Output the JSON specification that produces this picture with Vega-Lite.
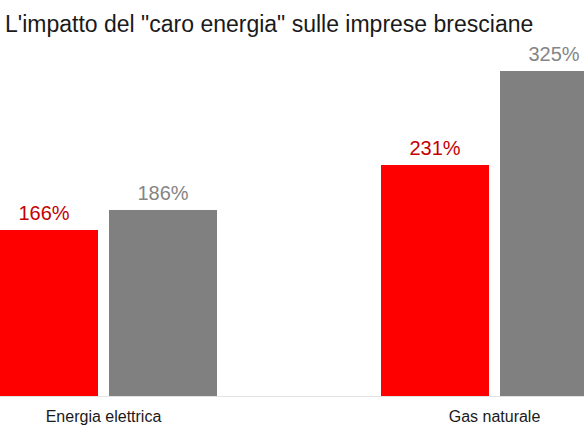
{
  "$schema": "https://vega.github.io/schema/vega-lite/v6.json",
  "width": 584,
  "height": 356,
  "autosize": "none",
  "padding": {"top": 40, "left": 0, "right": 0, "bottom": 42},
  "background": "white",
  "title": {
    "text": "L'impatto del \"caro energia\" sulle imprese bresciane",
    "anchor": "start",
    "frame": "group",
    "font": "Liberation Sans",
    "fontSize": 23,
    "fontWeight": "normal",
    "color": "#1a1a1a",
    "dx": 5,
    "baseline": "alphabetic",
    "offset": -15
  },
  "config": {"view": {"stroke": null}},
  "data": {
    "values": [
      {"categoria": "Energia elettrica", "serie": "Serie 1", "valore": 1.66},
      {"categoria": "Energia elettrica", "serie": "Serie 2", "valore": 1.86},
      {"categoria": "Gas naturale", "serie": "Serie 1", "valore": 2.31},
      {"categoria": "Gas naturale", "serie": "Serie 2", "valore": 3.25}
    ]
  },
  "encoding": {
    "x": {
      "field": "categoria",
      "type": "nominal",
      "sort": null,
      "scale": {"range": [-10, 608], "paddingInner": 0.4194, "paddingOuter": 0},
      "axis": {
        "title": null,
        "labelAngle": 0,
        "ticks": false,
        "tickSize": 0,
        "labelBaseline": "alphabetic",
        "labelPadding": 25,
        "labelFont": "Liberation Sans",
        "labelFontSize": 16,
        "labelColor": "#1a1a1a",
        "domainColor": "#e3e3e3",
        "grid": false
      }
    },
    "xOffset": {
      "field": "serie",
      "type": "nominal",
      "scale": {"paddingInner": 0.0924, "paddingOuter": 0}
    },
    "y": {
      "field": "valore",
      "type": "quantitative",
      "scale": {"domain": [0, 3.56]},
      "axis": null
    }
  },
  "layer": [
    {
      "mark": {"type": "bar"},
      "encoding": {
        "color": {
          "field": "serie",
          "type": "nominal",
          "scale": {"domain": ["Serie 1", "Serie 2"], "range": ["#ff0000", "#808080"]},
          "legend": null
        }
      }
    },
    {
      "mark": {"type": "text", "baseline": "alphabetic", "dy": -10, "fontSize": 20, "font": "Liberation Sans"},
      "encoding": {
        "text": {"field": "valore", "type": "quantitative", "format": ".0%"},
        "color": {
          "field": "serie",
          "type": "nominal",
          "scale": {"domain": ["Serie 1", "Serie 2"], "range": ["#c40000", "#858585"]},
          "legend": null
        }
      }
    }
  ],
  "resolve": {"scale": {"color": "independent"}}
}
